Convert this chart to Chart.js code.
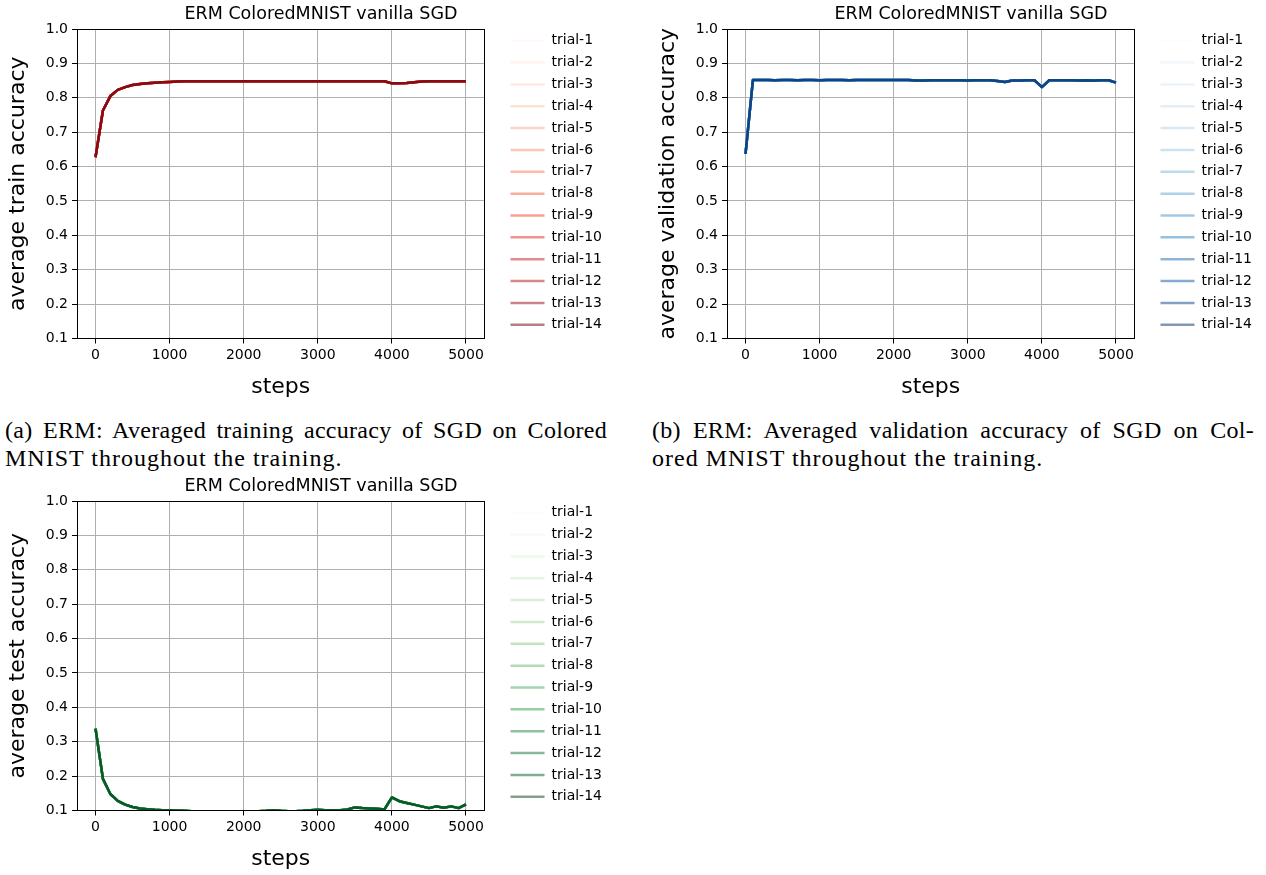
<!DOCTYPE html>
<html>
<head>
<meta charset="utf-8">
<title>ERM ColoredMNIST vanilla SGD</title>
<script src="https://cdn.jsdelivr.net/npm/chart.js@4.4.0/dist/chart.umd.min.js"></script>
<style>
  html, body { margin: 0; padding: 0; background: #fff; }
  body { width: 1266px; height: 875px; position: relative; overflow: hidden; }
  canvas { position: absolute; }
  #chart-train { left: 0; top: 0; }
  #chart-val { left: 650px; top: 0; }
  #chart-test { left: 0; top: 472px; }
  .caption {
    position: absolute; width: 602px;
    font-family: "Liberation Serif", serif; font-size: 24px; line-height: 28px;
    letter-spacing: 1px; color: #000; white-space: nowrap;
  }
  .caption .first { letter-spacing: 0.3px; text-align: justify; text-align-last: justify; }
</style>
</head>
<body>
<canvas id="chart-train" width="642" height="403"></canvas>
<canvas id="chart-val" width="642" height="403"></canvas>
<canvas id="chart-test" width="642" height="403"></canvas>

<div class="caption" style="left:5px; top:416px">
  <div class="first">(a) ERM: Averaged training accuracy of SGD on Colored</div>
  <div>MNIST throughout the training.</div>
</div>
<div class="caption" style="left:652px; top:416px">
  <div class="first">(b) ERM: Averaged validation accuracy of SGD on Col-</div>
  <div>ored MNIST throughout the training.</div>
</div>

<script>
// logged every 100 steps
const steps = [
  0, 100, 200, 300, 400, 500, 600, 700, 800, 900,
  1000, 1100, 1200, 1300, 1400, 1500, 1600, 1700, 1800, 1900,
  2000, 2100, 2200, 2300, 2400, 2500, 2600, 2700, 2800, 2900,
  3000, 3100, 3200, 3300, 3400, 3500, 3600, 3700, 3800, 3900,
  4000, 4100, 4200, 4300, 4400, 4500, 4600, 4700, 4800, 4900,
  5000
];

const trainAcc = [
  0.627, 0.763, 0.805, 0.823, 0.831, 0.837, 0.840, 0.842, 0.844, 0.845,
  0.846, 0.847, 0.848, 0.848, 0.848, 0.848, 0.848, 0.848, 0.848, 0.848,
  0.848, 0.848, 0.848, 0.848, 0.848, 0.848, 0.848, 0.848, 0.848, 0.848,
  0.848, 0.848, 0.848, 0.848, 0.848, 0.848, 0.848, 0.848, 0.848, 0.848,
  0.842, 0.842, 0.843, 0.845, 0.847, 0.848, 0.848, 0.848, 0.848, 0.848,
  0.848
];

const valAcc = [
  0.637, 0.852, 0.852, 0.852, 0.851, 0.852, 0.852, 0.851, 0.852, 0.852,
  0.851, 0.852, 0.852, 0.852, 0.851, 0.852, 0.852, 0.852, 0.852, 0.852,
  0.852, 0.852, 0.852, 0.850, 0.850, 0.851, 0.851, 0.851, 0.851, 0.851,
  0.850, 0.851, 0.851, 0.851, 0.849, 0.846, 0.850, 0.850, 0.851, 0.851,
  0.831, 0.851, 0.851, 0.851, 0.851, 0.850, 0.851, 0.850, 0.851, 0.851,
  0.844
];

const testAcc = [
  0.338, 0.192, 0.148, 0.128, 0.117, 0.110, 0.106, 0.104, 0.102, 0.101,
  0.101, 0.100, 0.099, 0.098, 0.098, 0.097, 0.097, 0.097, 0.098, 0.097,
  0.097, 0.097, 0.098, 0.099, 0.101, 0.099, 0.098, 0.098, 0.099, 0.101,
  0.102, 0.101, 0.101, 0.101, 0.103, 0.109, 0.107, 0.106, 0.105, 0.103,
  0.138, 0.127, 0.122, 0.117, 0.112, 0.107, 0.112, 0.108, 0.112, 0.107,
  0.118
];

const xTicks = [0, 1000, 2000, 3000, 4000, 5000];
const yTicks = [0.1, 0.2, 0.3, 0.4, 0.5, 0.6, 0.7, 0.8, 0.9, 1.0];

const trials = [
  'trial-1', 'trial-2', 'trial-3', 'trial-4', 'trial-5', 'trial-6', 'trial-7',
  'trial-8', 'trial-9', 'trial-10', 'trial-11', 'trial-12', 'trial-13', 'trial-14'
];

// sequential colour ramps (same stops as matplotlib Reds / Blues / Greens)
const REDS = ['#fff5f0', '#fee0d2', '#fcbba1', '#fc9272', '#fb6a4a', '#ef3b2c', '#cb181d', '#a50f15', '#67000d'];
const BLUES = ['#f7fbff', '#deebf7', '#c6dbef', '#9ecae1', '#6baed6', '#4292c6', '#2171b5', '#08519c', '#08306b'];
const GREENS = ['#f7fcf5', '#e5f5e0', '#c7e9c0', '#a1d99b', '#74c476', '#41ab5d', '#238b45', '#006d2c', '#00441b'];

function hexRgb(h){
  return [1, 3, 5].map(i => parseInt(h.slice(i, i + 2), 16));
}

function ramp(stops, t, alpha){
  const pos = t * (stops.length - 1);
  const i = Math.min(Math.floor(pos), stops.length - 2);
  const f = pos - i;
  const a = hexRgb(stops[i]), b = hexRgb(stops[i + 1]);
  const c = a.map((v, k) => Math.round(v + (b[k] - v) * f));
  return `rgba(${c[0]},${c[1]},${c[2]},${alpha})`;
}

Chart.defaults.font.family = '"DejaVu Sans", sans-serif';
Chart.defaults.color = '#000';

// black box around the plot area, drawn over the lines
const frame = {
  id: 'frame',
  afterDatasetsDraw(chart){
    const {ctx, chartArea: a} = chart;
    const l = Math.round(a.left) + 0.5, t = Math.round(a.top) + 0.5;
    const r = Math.round(a.right) - 0.5, b = Math.round(a.bottom) - 0.5;
    ctx.save();
    ctx.strokeStyle = '#000';
    ctx.lineWidth = 1;
    ctx.strokeRect(l, t, r - l, b - t);
    ctx.restore();
  }
};

// title centred over the whole figure (axes + legend)
const plotTitle = {
  id: 'plotTitle',
  afterDraw(chart, args, opts){
    const ctx = chart.ctx;
    ctx.save();
    ctx.font = '17.5px "DejaVu Sans", sans-serif';
    ctx.fillStyle = '#000';
    ctx.textAlign = 'center';
    ctx.textBaseline = 'middle';
    ctx.fillText(opts.text, chart.width / 2, 14);
    ctx.restore();
  }
};

const gridStyle = { color: '#b0b0b0', lineWidth: 1, tickColor: '#000', tickLength: 5, tickWidth: 1 };

function makeChart(canvasId, values, stops, yLabel){
  const datasets = trials.map((name, i) => ({
    label: name,
    data: steps.map((s, k) => ({x: s, y: values[k]})),
    borderColor: ramp(stops, i / (trials.length - 1), 0.5),
    backgroundColor: ramp(stops, i / (trials.length - 1), 0.5),
    borderWidth: 2.5,
    borderJoinStyle: 'round',
    pointRadius: 0,
    tension: 0,
    xAxisID: 'x',
    yAxisID: 'y',
    // later trials are painted on top
    order: trials.length - 1 - i
  }));

  return new Chart(document.getElementById(canvasId), {
    type: 'line',
    data: { datasets },
    options: {
      responsive: false,
      animation: false,
      devicePixelRatio: 1,
      events: [],
      layout: { padding: { top: 25.85, right: 39.35, bottom: 0, left: 0 } },
      scales: {
        x: {
          type: 'linear', min: -250, max: 5250,
          afterBuildTicks: s => { s.ticks = xTicks.map(v => ({value: v})); },
          afterFit: s => { s.height = 64.5; },
          grid: gridStyle,
          border: { display: false },
          ticks: { font: { size: 14 }, padding: 3, maxRotation: 0, callback: v => String(v) },
          title: { display: true, text: 'steps', font: { size: 22 }, padding: { top: 0, bottom: 3 } }
        },
        y: {
          type: 'linear', min: 0.1, max: 1.0,
          afterBuildTicks: s => { s.ticks = yTicks.map(v => ({value: v})); },
          afterFit: s => { s.width = 77; },
          grid: gridStyle,
          border: { display: false },
          ticks: { font: { size: 14 }, padding: 4, callback: v => v.toFixed(1) },
          title: { display: true, text: yLabel, font: { size: 22 }, padding: { top: 5, bottom: 0 } }
        },
        // spacer axes: keep room above the plot and between plot and legend
        x2: {
          type: 'linear', position: 'top',
          grid: { display: false }, border: { display: false }, ticks: { display: false },
          afterFit: s => { s.height = 3.15; }
        },
        y2: {
          type: 'linear', position: 'right',
          grid: { display: false }, border: { display: false }, ticks: { display: false },
          afterFit: s => { s.width = 18.15; }
        }
      },
      plugins: {
        legend: {
          position: 'right',
          align: 'start',
          fullSize: true,
          maxWidth: 100,
          labels: {
            usePointStyle: true,
            pointStyle: 'line',
            pointStyleWidth: 34,
            padding: 7.85,
            font: { size: 14 },
            color: '#000',
            sort: (a, b) => a.datasetIndex - b.datasetIndex
          }
        },
        tooltip: { enabled: false },
        plotTitle: { text: 'ERM ColoredMNIST vanilla SGD' }
      }
    },
    plugins: [frame, plotTitle]
  });
}

makeChart('chart-train', trainAcc, REDS, 'average train accuracy');
makeChart('chart-val', valAcc, BLUES, 'average validation accuracy');
makeChart('chart-test', testAcc, GREENS, 'average test accuracy');
</script>
</body>
</html>
